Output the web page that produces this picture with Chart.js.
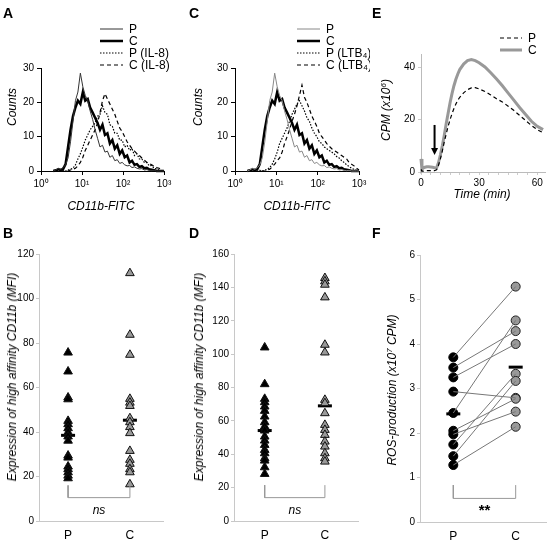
<!DOCTYPE html>
<html><head><meta charset="utf-8">
<script src="https://cdn.jsdelivr.net/npm/chart.js@4.4.1/dist/chart.umd.min.js"></script>
<style>
html,body{margin:0;padding:0;background:#fff;}
body{width:558px;height:542px;position:relative;overflow:hidden;font-family:"Liberation Sans",Arial,sans-serif;color:#000;}
canvas{position:absolute;}
.t{position:absolute;white-space:nowrap;line-height:1;}
.lbl{font-weight:bold;font-size:14px;}
.it{font-style:italic;font-size:12px;}
.rot{transform:translate(-50%,-50%) rotate(-90deg);}
.ctr{transform:translate(-50%,-50%);}
sup{font-size:8px;vertical-align:4px;line-height:0;}
</style></head><body>
<canvas id="cA"></canvas><canvas id="cC"></canvas><canvas id="cE"></canvas>
<canvas id="cB"></canvas><canvas id="cD"></canvas><canvas id="cF"></canvas>

<div class="t lbl" style="left:3px;top:6px">A</div>
<div class="t lbl" style="left:189px;top:6px">C</div>
<div class="t lbl" style="left:372px;top:6px">E</div>
<div class="t lbl" style="left:3px;top:226px">B</div>
<div class="t lbl" style="left:189px;top:226px">D</div>
<div class="t lbl" style="left:372px;top:226px">F</div>

<div class="t it rot" style="left:12px;top:107px">Counts</div>
<div class="t it rot" style="left:198px;top:107px">Counts</div>
<div class="t it rot" style="left:386px;top:110px">CPM (x10<sup>6</sup>)</div>
<div class="t it ctr" style="left:101px;top:206px">CD11b-FITC</div>
<div class="t it ctr" style="left:297px;top:206px">CD11b-FITC</div>
<div class="t it ctr" style="left:482px;top:194px">Time (min)</div>
<div class="t it rot" style="left:12px;top:377px">Expression of high affinity CD11b (MFI)</div>
<div class="t it rot" style="left:199px;top:377px">Expression of high affinity CD11b (MFI)</div>
<div class="t it rot" style="left:392px;top:390px">ROS-production (x10<sup>7</sup> CPM)</div>

<script>
// ---------------- DATA ----------------
// Panels A / C : flow cytometry histograms (x = CD11b-FITC fluorescence, y = counts)
const fluorescence = [2.0,2.29,2.63,3.02,3.47,3.98,4.57,5.25,6.03,6.92,7.94,9.12,10.5,12.0,13.8,15.8,18.2,20.9,24.0,27.5,31.6,36.3,41.7,47.9,55.0,63.1,72.4,83.2,95.5,110,126,145,166,191,219,251,288,331,380,437,501,575,661,759,871,1000];
const countsP      = [0,0.3,0.8,0.5,1.0,1.8,3.8,8.5,14.5,20.5,23.0,28.5,24.5,22.0,20.5,17.5,15.0,12.0,9.5,7.0,7.5,5.5,5.8,4.0,4.5,3.0,3.3,2.2,2.5,1.8,1.5,1.6,1.0,1.2,0.8,0.6,0.7,0.3,0.4,0.2,0.1,0.2,0,0,0,0];
const countsC      = [0,0.2,0.5,0.3,0.6,2.0,7.0,12.0,16.0,18.5,20.5,19.5,23.0,20.5,21.0,18.5,17.0,15.5,14.0,12.0,13.5,10.5,11.0,8.0,9.0,6.5,7.5,5.0,6.0,4.0,4.5,2.5,3.0,1.8,2.0,1.2,1.4,0.8,0.9,0.5,0.4,0.2,0,0,0,0];
const countsPIL8   = [0,0,0,0,0.2,0,0.3,0.5,0.8,1.8,3.5,5.0,7.0,9.0,10.5,12.0,13.0,14.0,16.0,16.5,19.0,17.0,16.5,13.5,13.0,11.0,11.0,9.0,9.0,7.0,7.5,6.0,6.5,4.5,5.0,3.5,3.5,2.5,2.5,1.5,1.6,0.8,0.6,0.3,0.1,0];
const countsCIL8   = [0,0,0,0,0,0,0,0.3,0.5,0.8,1.5,2.5,4.0,6.0,7.5,9.0,10.5,12.0,14.0,17.0,20.5,22.5,21.0,19.5,18.0,16.5,14.5,12.5,11.5,10.0,8.5,7.5,6.5,5.8,5.0,4.5,3.8,3.2,2.5,2.2,1.8,1.4,1.0,0.8,0.3,0];
const countsPLTB4  = [0,0,0,0,0,0.2,0,0.2,0.5,1.0,2.0,3.5,5.5,8.0,9.5,11.0,12.5,14.5,16.5,18.0,19.5,20.5,19.0,17.5,15.5,14.5,12.5,11.0,10.0,8.5,8.0,7.0,6.5,6.0,5.5,5.0,4.2,3.8,3.0,2.5,1.8,1.3,0.8,0.5,0.2,0];
const countsCLTB4  = [0,0,0,0,0,0,0,0,0.3,0.5,1.2,2.0,3.0,3.8,5.5,8.0,10.0,12.0,14.5,16.5,19.0,22.0,25.0,21.5,20.0,18.0,16.0,14.5,13.0,11.0,10.0,9.0,8.0,7.2,6.5,6.0,5.5,5.0,4.5,4.0,3.5,2.5,2.0,1.5,0.8,0.3];
const histXTicks   = [1,10,100,1000];
const histXLabels  = ['10\u2070','10\u00b9','10\u00b2','10\u00b3'];
const histYTicks   = [0,10,20,30];

// Panel E : chemiluminescence kinetics
const timeMin = [0,0.5,1,2,3,4,5,6,7,8,9,10,11,12,13,14,15,16,17,18,19,20,22,24,26,28,30,33,36,39,42,45,48,51,54,57,60,63];
const cpmP    = [1.0,0.3,0.3,0.5,0.5,0.5,0.5,0.5,0.5,0.8,2.5,5.0,8.0,11.5,14.5,17.5,20.0,22.3,24.3,26.0,27.5,28.6,30.3,31.5,32.2,32.3,31.8,30.8,29.5,28.0,26.8,25.2,23.5,21.6,19.7,17.8,16.2,15.0];
const cpmC    = [5.0,1.0,1.5,1.8,2.0,2.0,1.9,1.8,1.6,1.5,3.5,6.5,10.0,14.0,18.5,22.5,26.5,30.0,33.0,35.5,37.5,39.2,41.3,42.6,43.0,42.6,41.8,40.2,38.0,35.6,33.0,30.2,27.4,24.6,22.0,19.4,17.5,16.2];
const eXTicks = [0,5,10,15,20,25,30,35,40,45,50,55,60];
const eXLabels= [0,30,60];
const eYTicks = [0,20,40];
const arrowTime = 7, arrowFrom = 18, arrowTo = 6.5;

// Panels B / D / F : individual values
const groups = ['P','C'];
const mfiIL8P  = [75.7,67.2,55.5,54.7,45.0,43.5,41.7,39.9,38.0,36.1,29.4,28.5,24.5,23.3,21.9,20.4,19.2];
const mfiIL8C  = [111.4,83.7,74.7,54.9,53.2,51.7,46.2,44.4,42.2,39.5,31.5,27.5,25.7,23.3,21.9,16.5];
const meanIL8  = [38.5,45.3];
const mfiLTB4P = [104,82,73.2,71.2,68.6,66,62.6,59.2,56.6,54.2,50.6,48.2,45.6,42.6,40.6,37.6,36.2,32.2,28.2];
const mfiLTB4C = [145.6,143.6,141.6,134,105.6,101,72.6,70.6,64.6,57.6,54.6,51.6,47.6,44.6,40.6,37.6,35.6];
const meanLTB4 = [54.2,69.0];
const rosP     = [3.70,3.47,3.25,2.93,2.45,2.05,1.97,1.74,1.48,1.28];
const rosC     = [5.29,4.29,4.00,2.79,4.53,2.77,2.48,3.33,3.17,2.14];
const meanROS  = [2.43,3.48];
const bracketB = [16,10.5], bracketD = [21.5,14], bracketF = [0.83,0.53];
const yTicksB = [0,20,40,60,80,100,120];
const yTicksD = [0,20,40,60,80,100,120,140,160];
const yTicksF = [0,1,2,3,4,5,6];

// ---------------- PLUGINS ----------------
const sideLegend = {id:'sideLegend', afterDraw(chart, args, o){
  if(!o || !o.items) return; const ctx = chart.ctx; ctx.save();
  o.items.forEach((di,i)=>{ const ds = chart.data.datasets[di]; const y = o.y + i*o.dy;
    ctx.beginPath(); ctx.setLineDash(ds.borderDash||[]); ctx.lineWidth = ds.borderWidth; ctx.strokeStyle = ds.borderColor;
    ctx.moveTo(o.x,y); ctx.lineTo(o.x+o.len,y); ctx.stroke(); ctx.setLineDash([]);
    ctx.fillStyle='#000'; ctx.font=o.font; ctx.textBaseline='middle'; ctx.textAlign='left';
    ctx.fillText(ds.label, o.x+o.len+o.gap, y+0.5); });
  ctx.restore(); }};
const dataText = {id:'dataText', afterDraw(chart, args, o){
  if(!o || !o.items) return; const ctx = chart.ctx; ctx.save();
  o.items.forEach(it=>{ ctx.font = it.font; ctx.fillStyle='#000'; ctx.textAlign='center'; ctx.textBaseline='middle';
    ctx.fillText(it.text, chart.scales.x.getPixelForValue(it.x), chart.scales.y.getPixelForValue(it.y)); });
  ctx.restore(); }};
const arrowPlugin = {id:'arrowMark', afterDraw(chart, args, o){
  if(!o || o.x===undefined) return; const ctx = chart.ctx; const xs = chart.scales.x, ys = chart.scales.y;
  const x = xs.getPixelForValue(o.x), y1 = ys.getPixelForValue(o.from), y2 = ys.getPixelForValue(o.to);
  ctx.save(); ctx.strokeStyle='#000'; ctx.fillStyle='#000'; ctx.lineWidth=2;
  ctx.beginPath(); ctx.moveTo(x,y1); ctx.lineTo(x,y2-6); ctx.stroke();
  ctx.beginPath(); ctx.moveTo(x-3.5,y2-7); ctx.lineTo(x+3.5,y2-7); ctx.lineTo(x,y2); ctx.closePath(); ctx.fill();
  ctx.restore(); }};
Chart.register(sideLegend, dataText, arrowPlugin);
Chart.defaults.font.family = '"Liberation Sans", Arial, sans-serif';
Chart.defaults.color = '#000';

function makeChart(id, box, area, cfg){
  const cv = document.getElementById(id);
  cv.width = box[2]; cv.height = box[3];
  Object.assign(cv.style,{left:box[0]+'px',top:box[1]+'px',width:box[2]+'px',height:box[3]+'px'});
  const o = cfg.options;
  o.responsive=false; o.animation=false; o.devicePixelRatio=1;
  o.layout={padding:{left:0,top:area.t-box[1],right:box[0]+box[2]-area.r,bottom:0}};
  o.scales.x.afterFit = s=>{ s.height = box[1]+box[3]-area.b; s.paddingLeft=0; s.paddingRight=0; };
  o.scales.y.afterFit = s=>{ s.width = area.l-box[0]; s.paddingTop=0; s.paddingBottom=0; };
  o.plugins = Object.assign({legend:{display:false}, tooltip:{enabled:false}}, o.plugins||{});
  return new Chart(cv, cfg);
}
const xy = (xs, ys) => xs.map((x,i)=>({x:x, y:ys[i]}));
const lineDs = (label, xs, ys, color, width, dash) => ({label, data: xy(xs,ys), showLine:true, pointRadius:0, borderColor:color, borderWidth:width, borderDash:dash||[], tension:0, clip:false});

function histOptions(legendX){
  return {
    scales:{
      x:{type:'logarithmic', min:1, max:1000,
         afterBuildTicks:s=>{ s.ticks = histXTicks.map(v=>({value:v})); },
         ticks:{font:{size:10}, padding:3, maxRotation:0, autoSkip:false, callback:(v,i)=>histXLabels[i]},
         grid:{display:true, drawOnChartArea:false, drawTicks:true, tickLength:4, color:'#000'},
         border:{display:true, color:'#000', width:1}},
      y:{type:'linear', min:0, max:30,
         afterBuildTicks:s=>{ s.ticks = histYTicks.map(v=>({value:v})); },
         ticks:{font:{size:10}, padding:3},
         grid:{display:true, drawOnChartArea:false, drawTicks:true, tickLength:4, color:'#000'},
         border:{display:true, color:'#000', width:1}}
    },
    plugins:{sideLegend:{items:[0,1,2,3], x:legendX, y:29, dy:12, len:23, gap:6, font:'12px "Liberation Sans", Arial, sans-serif'}}
  };
}

// Panel A
makeChart('cA',[0,0,185,220],{l:41,r:164,t:68,b:171},{type:'scatter',
  data:{datasets:[
    lineDs('P', fluorescence, countsP, '#333', 1),
    lineDs('C', fluorescence, countsC, '#000', 2.5),
    lineDs('P (IL-8)', fluorescence, countsPIL8, '#000', 1.2, [1.5,1.5]),
    lineDs('C (IL-8)', fluorescence, countsCIL8, '#000', 1.2, [4,3])
  ]}, options: histOptions(100)});

// Panel C
makeChart('cC',[185,0,185,220],{l:235,r:359,t:68,b:171},{type:'scatter',
  data:{datasets:[
    lineDs('P', fluorescence, countsP, '#888', 1),
    lineDs('C', fluorescence, countsC, '#000', 2.5),
    lineDs('P (LTB\u2084)', fluorescence, countsPLTB4, '#000', 1.2, [1.5,1.5]),
    lineDs('C (LTB\u2084)', fluorescence, countsCLTB4, '#000', 1.2, [4,3])
  ]}, options: histOptions(112)});

// Panel E
makeChart('cE',[370,0,188,220],{l:421,r:545,t:54.4,b:172},{type:'scatter',
  data:{datasets:[
    lineDs('P', timeMin, cpmP, '#000', 1.2, [4,3]),
    lineDs('C', timeMin, cpmC, '#999', 3)
  ]},
  options:{
    scales:{
      x:{type:'linear', min:0, max:64,
         afterBuildTicks:s=>{ s.ticks = eXTicks.map(v=>({value:v})); },
         ticks:{font:{size:10}, padding:2, maxRotation:0, autoSkip:false, callback:v=> eXLabels.includes(v)? String(v):''},
         grid:{display:true, drawOnChartArea:false, drawTicks:true, tickLength:3, color:'#ccc'},
         border:{display:true, color:'#bbb', width:1}},
      y:{type:'linear', min:0, max:45,
         afterBuildTicks:s=>{ s.ticks = eYTicks.map(v=>({value:v})); },
         ticks:{font:{size:10}, padding:3},
         grid:{display:true, drawOnChartArea:false, drawTicks:true, tickLength:3, color:'#ccc'},
         border:{display:true, color:'#bbb', width:1}}
    },
    plugins:{
      sideLegend:{items:[0,1], x:130, y:38, dy:12, len:22, gap:6, font:'12px "Liberation Sans", Arial, sans-serif'},
      arrowMark:{x:arrowTime, from:arrowFrom, to:arrowTo}
    }
  }});

function dotOptions(xmin, xmax, yTicks, ymax, sig){
  return {
    scales:{
      x:{type:'linear', min:xmin, max:xmax,
         afterBuildTicks:s=>{ s.ticks = [1,2].map(v=>({value:v})); },
         ticks:{font:{size:12}, padding:7, maxRotation:0, autoSkip:false, callback:(v,i)=>groups[i]},
         grid:{display:true, drawOnChartArea:false, drawTicks:false, color:'#c8c8c8'},
         border:{display:true, color:'#c8c8c8', width:1}},
      y:{type:'linear', min:0, max:ymax,
         afterBuildTicks:s=>{ s.ticks = yTicks.map(v=>({value:v})); },
         ticks:{font:{size:10}, padding:2},
         grid:{display:true, drawOnChartArea:false, drawTicks:true, tickLength:3, color:'#c8c8c8'},
         border:{display:true, color:'#c8c8c8', width:1}}
    },
    plugins:{dataText:{items:[sig]}}
  };
}
function bracketDs(b){ return {data:[{x:1,y:b[0]},{x:1,y:b[1]},{x:2,y:b[1]},{x:2,y:b[0]}], showLine:true, pointRadius:0, borderColor:'#999', borderWidth:1, tension:0, clip:false}; }
function meanDs(m){ return {data:m.map((v,i)=>({x:i+1,y:v})), pointStyle:'line', pointRadius:7, pointBorderWidth:3, borderColor:'#000', backgroundColor:'#000', showLine:false, clip:false}; }
function triDs(vals, xpos, fill){ return {data:vals.map(v=>({x:xpos,y:v})), pointStyle:'triangle', pointRadius:5, pointBorderWidth:1, borderColor:'#111', backgroundColor:fill, showLine:false, clip:false}; }

// Panel B
makeChart('cB',[0,220,185,322],{l:39,r:163,t:254,b:521},{type:'scatter',
  data:{datasets:[ bracketDs(bracketB), triDs(mfiIL8P,1,'#000'), triDs(mfiIL8C,2,'#999'), meanDs(meanIL8) ]},
  options: dotOptions(0.53, 2.535, yTicksB, 120, {x:1.5, y:4.5, text:'ns', font:'italic 12px "Liberation Sans", Arial, sans-serif'})});

// Panel D
makeChart('cD',[185,220,185,322],{l:234,r:358,t:254,b:521},{type:'scatter',
  data:{datasets:[ bracketDs(bracketD), triDs(mfiLTB4P,1,'#000'), triDs(mfiLTB4C,2,'#999'), meanDs(meanLTB4) ]},
  options: dotOptions(0.49, 2.55, yTicksD, 160, {x:1.5, y:6, text:'ns', font:'italic 12px "Liberation Sans", Arial, sans-serif'})});

// Panel F
const pairDs = rosP.map((p,i)=>({data:[{x:1,y:p},{x:2,y:rosC[i]}], showLine:true, pointRadius:0, borderColor:'#777', borderWidth:1, tension:0, clip:false}));
makeChart('cF',[370,220,188,322],{l:420,r:546,t:255,b:522},{type:'scatter',
  data:{datasets:[ ...pairDs, bracketDs(bracketF),
    {data:rosP.map(v=>({x:1,y:v})), pointStyle:'circle', pointRadius:4.5, pointBorderWidth:1, borderColor:'#000', backgroundColor:'#000', showLine:false, clip:false},
    {data:rosC.map(v=>({x:2,y:v})), pointStyle:'circle', pointRadius:4.5, pointBorderWidth:1, borderColor:'#222', backgroundColor:'#999', showLine:false, clip:false},
    meanDs(meanROS) ]},
  options: dotOptions(0.466, 2.486, yTicksF, 6, {x:1.5, y:0.25, text:'**', font:'bold 15px "Liberation Sans", Arial, sans-serif'})});
</script>
</body></html>
